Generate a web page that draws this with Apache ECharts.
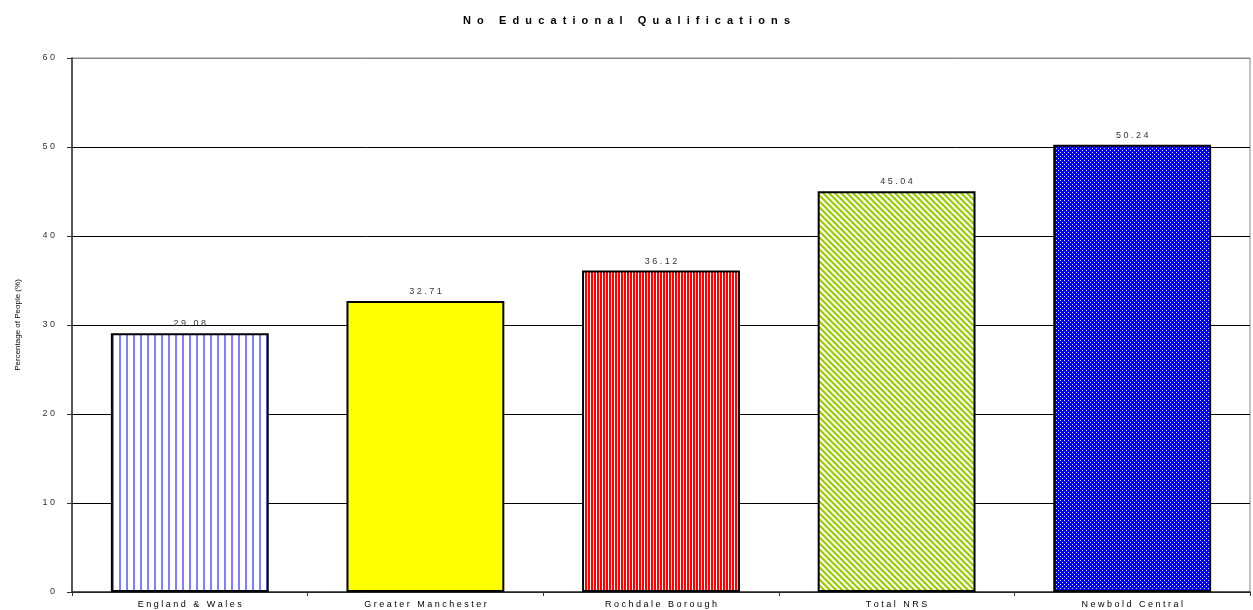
<!DOCTYPE html>
<html><head><meta charset="utf-8">
<script src="https://cdn.jsdelivr.net/npm/echarts@6/dist/echarts.min.js"></script>
<style>html,body{margin:0;padding:0;background:#fff}#c{width:1253px;height:610px}</style>
</head><body><div id="c"></div>
<script>
var titleText = 'No Educational Qualifications';
var yAxisName = 'Percentage of People (%)';
var categories = ['England & Wales', 'Greater Manchester', 'Rochdale Borough', 'Total NRS', 'Newbold Central'];
var values = [29.08, 32.71, 36.12, 45.04, 50.24];
var yTicks = [0, 10, 20, 30, 40, 50, 60];

function spaced(s, sep){ return String(s).split('').join(sep || ' '); }
function mk(w,h,fn){ var c=document.createElement('canvas'); c.width=w; c.height=h; var x=c.getContext('2d'); fn(x,w,h); return {image:c, repeat:'repeat'}; }

var patBlueLines = mk(7,7,function(x,w,h){x.fillStyle='#fff';x.fillRect(0,0,w,h);x.fillStyle='#8080ff';x.fillRect(0,0,2,h);});
var patYellow = '#ffff00';
var patRed = mk(3,3,function(x,w,h){x.fillStyle='#fff';x.fillRect(0,0,w,h);x.fillStyle='#ff0000';x.fillRect(0,0,2,h);});
var patGreen = mk(6,6,function(x,w,h){x.fillStyle='#fff';x.fillRect(0,0,w,h);x.strokeStyle='#99cc00';x.lineWidth=2.2;
  for(var o=-w;o<=w;o+=w){x.beginPath();x.moveTo(o-1,-1);x.lineTo(o+w+1,h+1);x.stroke();}});
var patBlueDots = mk(4,4,function(x,w,h){x.fillStyle='#0000ff';x.fillRect(0,0,w,h);x.fillStyle='#ddddff';x.fillRect(0,0,1,1);x.fillRect(2,2,1,1);});
var fills = [patBlueLines, patYellow, patRed, patGreen, patBlueDots];

var chart = echarts.init(document.getElementById('c'), null, {renderer:'canvas'});
chart.setOption({
  animation:false,
  textStyle:{fontFamily:'Liberation Sans, Arial, sans-serif'},
  title:{text:spaced(titleText, '  '), left:'center', top:10, textStyle:{fontSize:11, fontWeight:'bold', color:'#000'}},
  grid:{left:72, right:3, top:58, bottom:18, show:true, borderColor:'#888', borderWidth:1},
  xAxis:{type:'category', data:categories,
    axisLine:{lineStyle:{color:'#333', width:1.5}},
    axisTick:{show:true, length:4, lineStyle:{color:'#333'}},
    axisLabel:{formatter:function(v){return spaced(v);}, fontSize:9, color:'#000', margin:8}},
  yAxis:{type:'value', min:yTicks[0], max:yTicks[yTicks.length-1], interval:yTicks[1]-yTicks[0],
    name:yAxisName, nameLocation:'middle', nameGap:50, nameTextStyle:{fontSize:8, color:'#000'},
    axisLine:{show:true, lineStyle:{color:'#333', width:1.5}},
    axisTick:{show:true, length:5, lineStyle:{color:'#333'}},
    axisLabel:{formatter:function(v){return spaced(v);}, fontSize:9, color:'#333', margin:17},
    splitLine:{show:true, lineStyle:{color:['#000','#000','#000','#000','#000','#000','#888'], width:1}}},
  series:[{type:'bar', barCategoryGap:'33%',
    data: values.map(function(v,i){return {value:v, itemStyle:{color:fills[i], borderColor:'#000', borderWidth:2}};}),
    label:{show:true, position:'top', distance:5, fontSize:9, color:'#333', formatter:function(p){return spaced(p.value.toFixed(2));}}
  }]
});
</script></body></html>
